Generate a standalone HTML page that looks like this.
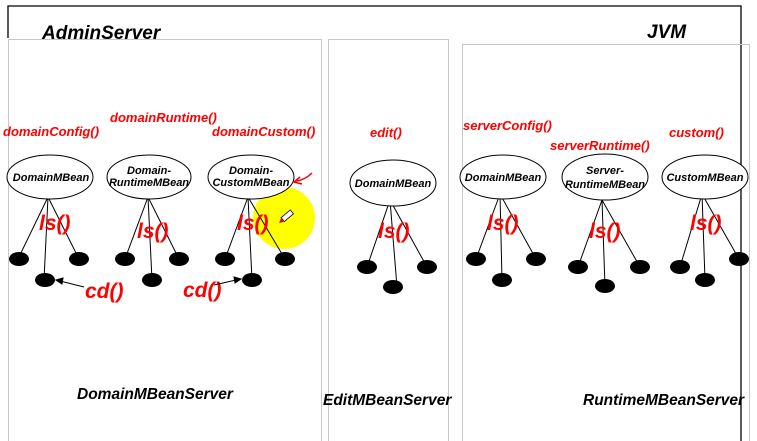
<!DOCTYPE html>
<html><head><meta charset="utf-8"><style>
html,body{margin:0;padding:0;background:#fff;}
svg{display:block;}
text{font-family:"Liberation Sans",Arial,sans-serif;font-style:italic;font-weight:bold;}
.r{fill:#ff0000;}
</style></head><body>
<svg width="757" height="441" viewBox="0 0 757 441" xmlns="http://www.w3.org/2000/svg">
<rect width="757" height="441" fill="#fff"/>
<polyline points="8,38 8,6 741,6 741,441" fill="none" stroke="#000" stroke-width="1.3"/>
<rect x="8.5" y="39.5" width="313" height="410" fill="none" stroke="#c8c8c8"/>
<rect x="328.5" y="39.5" width="120" height="410" fill="none" stroke="#c8c8c8"/>
<rect x="462.5" y="44.5" width="287" height="410" fill="none" stroke="#c8c8c8"/>
<text x="42" y="39" font-size="19" fill="#000">AdminServer</text>
<text x="647" y="38" font-size="19" fill="#000">JVM</text>
<circle cx="284" cy="218" r="31" fill="#ffff00"/>
<g stroke="#000" stroke-width="1" fill="none">
<path d="M48,197 L18,259 M48,197 L44,280 M48,197 L79,259"/>
<path d="M148,197 L125,259 M148,197 L152,280 M148,197 L179,259"/>
<path d="M248,197 L225,259 M248,197 L252,280 M248,197 L285,259"/>
<path d="M390,200 L367,267 M390,200 L397,287 M390,200 L427,267"/>
<path d="M500,194 L476,259 M500,194 L502,280 M500,194 L536,259"/>
<path d="M602,200 L578,267 M602,200 L605,286 M602,200 L640,267"/>
<path d="M702,194 L680,267 M702,194 L705,280 M702,194 L739,259"/>
<ellipse cx="50" cy="177" rx="43" ry="22" fill="#fff"/>
<ellipse cx="149" cy="177" rx="42" ry="22" fill="#fff"/>
<ellipse cx="251" cy="177" rx="43" ry="22" fill="#fff"/>
<ellipse cx="393" cy="183" rx="43" ry="23" fill="#fff"/>
<ellipse cx="503" cy="177" rx="43" ry="22" fill="#fff"/>
<ellipse cx="605" cy="177" rx="43" ry="23" fill="#fff"/>
<ellipse cx="705" cy="177" rx="43" ry="22" fill="#fff"/>
</g>
<g fill="#000">
<ellipse cx="19" cy="259" rx="10" ry="7"/><ellipse cx="45" cy="280" rx="10" ry="7"/><ellipse cx="79" cy="259" rx="10" ry="7"/>
<ellipse cx="125" cy="259" rx="10" ry="7"/><ellipse cx="152" cy="280" rx="10" ry="7"/><ellipse cx="179" cy="259" rx="10" ry="7"/>
<ellipse cx="225" cy="259" rx="10" ry="7"/><ellipse cx="252" cy="280" rx="10" ry="7"/><ellipse cx="285" cy="259" rx="10" ry="7"/>
<ellipse cx="367" cy="267" rx="10" ry="7"/><ellipse cx="393" cy="287" rx="10" ry="7"/><ellipse cx="427" cy="267" rx="10" ry="7"/>
<ellipse cx="476" cy="259" rx="10" ry="7"/><ellipse cx="502" cy="280" rx="10" ry="7"/><ellipse cx="536" cy="259" rx="10" ry="7"/>
<ellipse cx="578" cy="267" rx="10" ry="7"/><ellipse cx="605" cy="286" rx="10" ry="7"/><ellipse cx="640" cy="267" rx="10" ry="7"/>
<ellipse cx="680" cy="267" rx="10" ry="7"/><ellipse cx="705" cy="280" rx="10" ry="7"/><ellipse cx="739" cy="259" rx="10" ry="7"/>
</g>
<g font-size="11" fill="#000" text-anchor="middle">
<text x="51" y="181">DomainMBean</text>
<text x="149" y="174">Domain-</text><text x="149" y="186">RuntimeMBean</text>
<text x="251" y="174">Domain-</text><text x="251" y="186">CustomMBean</text>
<text x="393" y="187">DomainMBean</text>
<text x="503" y="181">DomainMBean</text>
<text x="605" y="174">Server-</text><text x="605" y="188">RuntimeMBean</text>
<text x="705" y="181">CustomMBean</text>
</g>
<g font-size="13" class="r">
<text x="3" y="136">domainConfig()</text>
<text x="110" y="122">domainRuntime()</text>
<text x="212" y="136">domainCustom()</text>
<text x="370" y="137">edit()</text>
<text x="463" y="130">serverConfig()</text>
<text x="550" y="150">serverRuntime()</text>
<text x="669" y="137">custom()</text>
</g>
<g font-size="21" class="r">
<text x="39" y="230">ls()</text>
<text x="137" y="238">ls()</text>
<text x="237" y="230">ls()</text>
<text x="378" y="238">ls()</text>
<text x="487" y="230">ls()</text>
<text x="589" y="238">ls()</text>
<text x="690" y="230">ls()</text>
<text x="85" y="298">cd()</text>
<text x="183" y="297">cd()</text>
</g>
<g stroke="#000" stroke-width="1" fill="#000">
<line x1="84" y1="287" x2="60" y2="281"/>
<polygon points="56,280 63,278 62,284"/>
<line x1="214" y1="285" x2="236" y2="280"/>
<polygon points="241,279 234,277 235,283"/>
</g>
<g stroke="#ff0000" stroke-width="1.5" fill="none">
<path d="M312,173 Q305,180 296,181"/>
<path d="M300,177 L294,182 L302,184"/>
</g>
<g transform="translate(283,220) rotate(-40)">
<rect x="0" y="-3" width="12" height="5" fill="#fff" stroke="#000" stroke-width="0.8"/>
<polygon points="0,-3 -5,0 0,2" fill="#d00"/>
</g>
<g font-size="15.5" fill="#000">
<text x="77" y="399">DomainMBeanServer</text>
<text x="323" y="405">EditMBeanServer</text>
<text x="583" y="405">RuntimeMBeanServer</text>
</g>
</svg>
</body></html>
